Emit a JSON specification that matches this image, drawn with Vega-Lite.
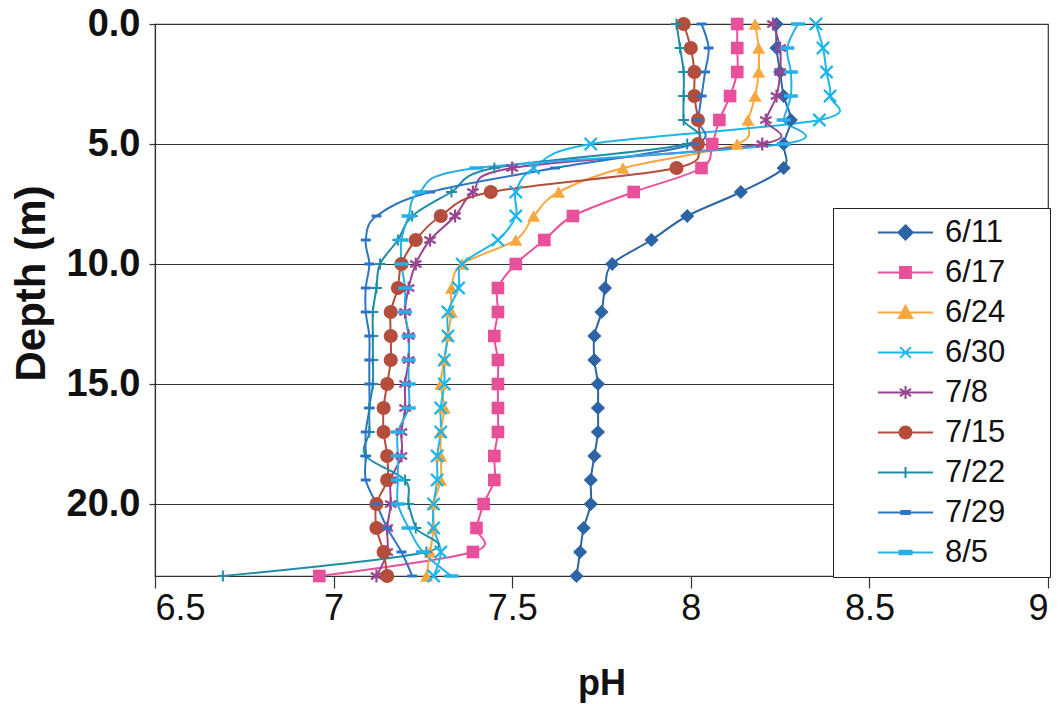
{
  "$schema": "https://vega.github.io/schema/vega-lite/v6.json",
  "width": 893,
  "height": 552,
  "autosize": "none",
  "padding": {"left": 155, "top": 24, "right": 12, "bottom": 128},
  "background": "white",
  "config": {
    "view": {"stroke": "#333", "strokeWidth": 1.2},
    "font": "Liberation Sans"
  },
  "datasets": {
    "ph": [
      {"date":"6/11","d":0,"ph":8.24},{"date":"6/11","d":1,"ph":8.24},{"date":"6/11","d":2,"ph":8.25},{"date":"6/11","d":3,"ph":8.26},{"date":"6/11","d":4,"ph":8.28},{"date":"6/11","d":5,"ph":8.26},{"date":"6/11","d":6,"ph":8.26},{"date":"6/11","d":7,"ph":8.14},{"date":"6/11","d":8,"ph":7.99},{"date":"6/11","d":9,"ph":7.89},{"date":"6/11","d":10,"ph":7.78},{"date":"6/11","d":11,"ph":7.76},{"date":"6/11","d":12,"ph":7.75},{"date":"6/11","d":13,"ph":7.73},{"date":"6/11","d":14,"ph":7.73},{"date":"6/11","d":15,"ph":7.74},{"date":"6/11","d":16,"ph":7.74},{"date":"6/11","d":17,"ph":7.74},{"date":"6/11","d":18,"ph":7.73},{"date":"6/11","d":19,"ph":7.72},{"date":"6/11","d":20,"ph":7.72},{"date":"6/11","d":21,"ph":7.70},{"date":"6/11","d":22,"ph":7.69},{"date":"6/11","d":23,"ph":7.68},
      {"date":"6/17","d":0,"ph":8.13},{"date":"6/17","d":1,"ph":8.13},{"date":"6/17","d":2,"ph":8.13},{"date":"6/17","d":3,"ph":8.11},{"date":"6/17","d":4,"ph":8.08},{"date":"6/17","d":5,"ph":8.06},{"date":"6/17","d":6,"ph":8.03},{"date":"6/17","d":7,"ph":7.84},{"date":"6/17","d":8,"ph":7.67},{"date":"6/17","d":9,"ph":7.59},{"date":"6/17","d":10,"ph":7.51},{"date":"6/17","d":11,"ph":7.46},{"date":"6/17","d":12,"ph":7.46},{"date":"6/17","d":13,"ph":7.45},{"date":"6/17","d":14,"ph":7.46},{"date":"6/17","d":15,"ph":7.46},{"date":"6/17","d":16,"ph":7.46},{"date":"6/17","d":17,"ph":7.46},{"date":"6/17","d":18,"ph":7.45},{"date":"6/17","d":19,"ph":7.45},{"date":"6/17","d":20,"ph":7.42},{"date":"6/17","d":21,"ph":7.40},{"date":"6/17","d":22,"ph":7.39},{"date":"6/17","d":23,"ph":6.96},
      {"date":"6/24","d":0,"ph":8.18},{"date":"6/24","d":1,"ph":8.19},{"date":"6/24","d":2,"ph":8.19},{"date":"6/24","d":3,"ph":8.18},{"date":"6/24","d":4,"ph":8.16},{"date":"6/24","d":5,"ph":8.13},{"date":"6/24","d":6,"ph":7.81},{"date":"6/24","d":7,"ph":7.63},{"date":"6/24","d":8,"ph":7.56},{"date":"6/24","d":9,"ph":7.51},{"date":"6/24","d":10,"ph":7.36},{"date":"6/24","d":11,"ph":7.33},{"date":"6/24","d":12,"ph":7.33},{"date":"6/24","d":13,"ph":7.32},{"date":"6/24","d":14,"ph":7.31},{"date":"6/24","d":15,"ph":7.30},{"date":"6/24","d":16,"ph":7.31},{"date":"6/24","d":17,"ph":7.30},{"date":"6/24","d":18,"ph":7.30},{"date":"6/24","d":19,"ph":7.30},{"date":"6/24","d":20,"ph":7.28},{"date":"6/24","d":21,"ph":7.28},{"date":"6/24","d":22,"ph":7.27},{"date":"6/24","d":23,"ph":7.26},
      {"date":"6/30","d":0,"ph":8.35},{"date":"6/30","d":1,"ph":8.37},{"date":"6/30","d":2,"ph":8.38},{"date":"6/30","d":3,"ph":8.39},{"date":"6/30","d":4,"ph":8.36},{"date":"6/30","d":5,"ph":7.72},{"date":"6/30","d":6,"ph":7.56},{"date":"6/30","d":7,"ph":7.51},{"date":"6/30","d":8,"ph":7.51},{"date":"6/30","d":9,"ph":7.46},{"date":"6/30","d":10,"ph":7.36},{"date":"6/30","d":11,"ph":7.35},{"date":"6/30","d":12,"ph":7.32},{"date":"6/30","d":13,"ph":7.32},{"date":"6/30","d":14,"ph":7.31},{"date":"6/30","d":15,"ph":7.31},{"date":"6/30","d":16,"ph":7.30},{"date":"6/30","d":17,"ph":7.30},{"date":"6/30","d":18,"ph":7.29},{"date":"6/30","d":19,"ph":7.29},{"date":"6/30","d":20,"ph":7.28},{"date":"6/30","d":21,"ph":7.28},{"date":"6/30","d":22,"ph":7.30},{"date":"6/30","d":23,"ph":7.28},
      {"date":"7/8","d":0,"ph":8.23},{"date":"7/8","d":1,"ph":8.25},{"date":"7/8","d":2,"ph":8.25},{"date":"7/8","d":3,"ph":8.24},{"date":"7/8","d":4,"ph":8.21},{"date":"7/8","d":5,"ph":8.20},{"date":"7/8","d":6,"ph":7.50},{"date":"7/8","d":7,"ph":7.39},{"date":"7/8","d":8,"ph":7.34},{"date":"7/8","d":9,"ph":7.27},{"date":"7/8","d":10,"ph":7.23},{"date":"7/8","d":11,"ph":7.21},{"date":"7/8","d":12,"ph":7.20},{"date":"7/8","d":13,"ph":7.21},{"date":"7/8","d":14,"ph":7.21},{"date":"7/8","d":15,"ph":7.20},{"date":"7/8","d":16,"ph":7.20},{"date":"7/8","d":17,"ph":7.19},{"date":"7/8","d":18,"ph":7.19},{"date":"7/8","d":19,"ph":7.16},{"date":"7/8","d":20,"ph":7.16},{"date":"7/8","d":21,"ph":7.15},{"date":"7/8","d":22,"ph":7.15},{"date":"7/8","d":23,"ph":7.12},
      {"date":"7/15","d":0,"ph":7.98},{"date":"7/15","d":1,"ph":8.00},{"date":"7/15","d":2,"ph":8.01},{"date":"7/15","d":3,"ph":8.01},{"date":"7/15","d":4,"ph":8.02},{"date":"7/15","d":5,"ph":8.02},{"date":"7/15","d":6,"ph":7.96},{"date":"7/15","d":7,"ph":7.44},{"date":"7/15","d":8,"ph":7.30},{"date":"7/15","d":9,"ph":7.23},{"date":"7/15","d":10,"ph":7.19},{"date":"7/15","d":11,"ph":7.18},{"date":"7/15","d":12,"ph":7.16},{"date":"7/15","d":13,"ph":7.16},{"date":"7/15","d":14,"ph":7.16},{"date":"7/15","d":15,"ph":7.15},{"date":"7/15","d":16,"ph":7.14},{"date":"7/15","d":17,"ph":7.14},{"date":"7/15","d":18,"ph":7.15},{"date":"7/15","d":19,"ph":7.15},{"date":"7/15","d":20,"ph":7.12},{"date":"7/15","d":21,"ph":7.12},{"date":"7/15","d":22,"ph":7.14},{"date":"7/15","d":23,"ph":7.15},
      {"date":"7/22","d":0,"ph":7.96},{"date":"7/22","d":1,"ph":7.97},{"date":"7/22","d":2,"ph":7.98},{"date":"7/22","d":3,"ph":7.98},{"date":"7/22","d":4,"ph":7.98},{"date":"7/22","d":5,"ph":7.99},{"date":"7/22","d":6,"ph":7.45},{"date":"7/22","d":7,"ph":7.33},{"date":"7/22","d":8,"ph":7.22},{"date":"7/22","d":9,"ph":7.18},{"date":"7/22","d":10,"ph":7.13},{"date":"7/22","d":11,"ph":7.12},{"date":"7/22","d":12,"ph":7.11},{"date":"7/22","d":13,"ph":7.11},{"date":"7/22","d":14,"ph":7.11},{"date":"7/22","d":15,"ph":7.11},{"date":"7/22","d":16,"ph":7.10},{"date":"7/22","d":17,"ph":7.10},{"date":"7/22","d":18,"ph":7.09},{"date":"7/22","d":19,"ph":7.20},{"date":"7/22","d":20,"ph":7.21},{"date":"7/22","d":21,"ph":7.23},{"date":"7/22","d":22,"ph":7.26},{"date":"7/22","d":23,"ph":6.69},
      {"date":"7/29","d":0,"ph":8.03},{"date":"7/29","d":1,"ph":8.05},{"date":"7/29","d":2,"ph":8.04},{"date":"7/29","d":3,"ph":8.03},{"date":"7/29","d":4,"ph":8.02},{"date":"7/29","d":5,"ph":8.01},{"date":"7/29","d":6,"ph":7.62},{"date":"7/29","d":7,"ph":7.27},{"date":"7/29","d":8,"ph":7.12},{"date":"7/29","d":9,"ph":7.09},{"date":"7/29","d":10,"ph":7.10},{"date":"7/29","d":11,"ph":7.09},{"date":"7/29","d":12,"ph":7.09},{"date":"7/29","d":13,"ph":7.10},{"date":"7/29","d":14,"ph":7.10},{"date":"7/29","d":15,"ph":7.10},{"date":"7/29","d":16,"ph":7.10},{"date":"7/29","d":17,"ph":7.09},{"date":"7/29","d":18,"ph":7.09},{"date":"7/29","d":19,"ph":7.09},{"date":"7/29","d":20,"ph":7.12},{"date":"7/29","d":21,"ph":7.15},{"date":"7/29","d":22,"ph":7.19},{"date":"7/29","d":23,"ph":7.22},
      {"date":"8/5","d":0,"ph":8.30},{"date":"8/5","d":1,"ph":8.27},{"date":"8/5","d":2,"ph":8.28},{"date":"8/5","d":3,"ph":8.28},{"date":"8/5","d":4,"ph":8.26},{"date":"8/5","d":5,"ph":8.26},{"date":"8/5","d":6,"ph":7.40},{"date":"8/5","d":7,"ph":7.24},{"date":"8/5","d":8,"ph":7.21},{"date":"8/5","d":9,"ph":7.19},{"date":"8/5","d":10,"ph":7.19},{"date":"8/5","d":11,"ph":7.20},{"date":"8/5","d":12,"ph":7.20},{"date":"8/5","d":13,"ph":7.21},{"date":"8/5","d":14,"ph":7.21},{"date":"8/5","d":15,"ph":7.21},{"date":"8/5","d":16,"ph":7.21},{"date":"8/5","d":17,"ph":7.18},{"date":"8/5","d":18,"ph":7.18},{"date":"8/5","d":19,"ph":7.18},{"date":"8/5","d":20,"ph":7.18},{"date":"8/5","d":21,"ph":7.21},{"date":"8/5","d":22,"ph":7.25},{"date":"8/5","d":23,"ph":7.33}
    ]
  },
  "data": {"name": "ph"},
  "encoding": {
    "x": {"field": "ph", "type": "quantitative",
      "scale": {"domain": [6.5, 9], "nice": false, "zero": false},
      "axis": {"values": [6.5, 7, 7.5, 8, 8.5, 9], "format": ".1~f", "grid": false, "title": "pH",
        "domain": true, "domainColor": "#333", "domainWidth": 1.2, "tickColor": "#333", "tickSize": 12, "tickWidth": 1.2,
        "labelFontSize": 36, "labelColor": "#111", "labelPadding": 3, "labelFont": "Liberation Sans",
        "titleFontSize": 36, "titleFontWeight": "bold", "titleColor": "#111", "titlePadding": 40, "titleFont": "Liberation Sans"}},
    "y": {"field": "d", "type": "quantitative",
      "scale": {"domain": [0, 23], "nice": false, "zero": false, "reverse": true},
      "axis": {"values": [0, 5, 10, 15, 20], "format": ".1f", "grid": true, "gridColor": "#333", "gridWidth": 1.2, "title": "Depth (m)",
        "domain": true, "domainColor": "#333", "domainWidth": 1.2, "tickColor": "#333", "tickSize": 6, "tickWidth": 1.2,
        "labelFontSize": 38, "labelFontWeight": "bold", "labelColor": "#111", "labelPadding": 9, "labelFont": "Liberation Sans",
        "titleFontSize": 42, "titleFontWeight": "bold", "titleColor": "#111", "titleFont": "Liberation Sans",
        "titleX": -124, "titleY": 259, "titleAngle": 270, "titleAlign": "center", "titleBaseline": "middle"}}
  },
  "layer": [
    {"transform": [{"filter": "datum.d < -100"}],
      "mark": {"type": "point", "filled": true, "opacity": 1, "strokeWidth": 2},
      "encoding": {
        "color": {"field": "date", "type": "nominal",
          "scale": {"domain": ["6/11","6/17","6/24","6/30","7/8","7/15","7/22","7/29","8/5"],
                    "range": ["#2C64A6","#E8509B","#F8A73E","#1CB6EB","#9A4592","#B44D3C","#1F8DA5","#2D74C6","#26B0E8"]},
          "legend": {"orient": "none", "legendX": 678, "legendY": 184, "title": null,
            "fillColor": "white", "strokeColor": "#222", "padding": 9,
            "labelFont": "Liberation Sans", "labelFontSize": 31, "labelColor": "#111",
            "symbolSize": 576, "symbolStrokeWidth": 2, "symbolOpacity": 1, "symbolOffset": 48, "labelOffset": 24, "rowPadding": 8}},
        "stroke": {"field": "date", "type": "nominal",
          "scale": {"domain": ["6/11","6/17","6/24","6/30","7/8","7/15","7/22","7/29","8/5"],
                    "range": ["#2C64A6","#E8509B","#F8A73E","#1CB6EB","#9A4592","#B44D3C","#1F8DA5","#2D74C6","#26B0E8"]}},
        "shape": {"field": "date", "type": "nominal",
          "scale": {"domain": ["6/11","6/17","6/24","6/30","7/8","7/15","7/22","7/29","8/5"],
            "range": [
              "M-2.3,0L2.3,0M0,-0.6L0.6,0L0,0.6L-0.6,0ZM10.9,0L10.9,0",
              "M-2.3,0L2.3,0M-0.45,-0.45L0.45,-0.45L0.45,0.45L-0.45,0.45ZM10.9,0L10.9,0",
              "M-2.3,0L2.3,0M0,-0.55L0.55,0.45L-0.55,0.45ZM10.9,0L10.9,0",
              "M-2.3,0L2.3,0M-0.45,-0.45L0.45,0.45M0.45,-0.45L-0.45,0.45M10.9,0L10.9,0",
              "M-2.3,0L2.3,0M0,-0.55L0,0.55M-0.47,-0.3L0.47,0.3M0.47,-0.3L-0.47,0.3M10.9,0L10.9,0",
              "M-2.3,0L2.3,0M0.5,0A0.5,0.5,0,1,1,-0.5,0A0.5,0.5,0,1,1,0.5,0ZM10.9,0L10.9,0",
              "M-2.3,0L2.3,0M0,-0.45L0,0.45M10.9,0L10.9,0",
              "M-2.3,0L2.3,0M-0.35,-0.12L0.35,-0.12L0.35,0.12L-0.35,0.12ZM10.9,0L10.9,0",
              "M-2.3,0L2.3,0M-0.5,-0.15L0.5,-0.15L0.5,0.15L-0.5,0.15ZM10.9,0L10.9,0"
            ]}}
      }
    },
    {
      "mark": {"type": "line", "interpolate": "cardinal", "strokeWidth": 2},
      "encoding": {
        "color": {"field": "date", "type": "nominal"},
        "detail": {"field": "date"},
        "order": {"field": "d", "type": "quantitative"}
      }
    },
    {"transform": [{"filter": {"field": "date", "equal": "6/11"}}],
      "mark": {"type": "point", "shape": "diamond", "filled": true, "size": 200, "opacity": 1},
      "encoding": {"color": {"field": "date", "type": "nominal"}}},
    {"transform": [{"filter": {"field": "date", "equal": "6/17"}}],
      "mark": {"type": "point", "shape": "square", "filled": true, "size": 160, "opacity": 1},
      "encoding": {"color": {"field": "date", "type": "nominal"}}},
    {"transform": [{"filter": {"field": "date", "equal": "6/24"}}],
      "mark": {"type": "point", "shape": "triangle-up", "filled": true, "size": 170, "opacity": 1},
      "encoding": {"color": {"field": "date", "type": "nominal"}}},
    {"transform": [{"filter": {"field": "date", "equal": "6/30"}}],
      "mark": {"type": "point", "shape": "M-1,-1L1,1M1,-1L-1,1", "filled": false, "size": 150, "strokeWidth": 2.2, "opacity": 1},
      "encoding": {"color": {"field": "date", "type": "nominal"}}},
    {"transform": [{"filter": {"field": "date", "equal": "7/8"}}],
      "mark": {"type": "point", "shape": "M0,-1L0,1M-0.87,-0.5L0.87,0.5M0.87,-0.5L-0.87,0.5", "filled": false, "size": 170, "strokeWidth": 2.2, "opacity": 1},
      "encoding": {"color": {"field": "date", "type": "nominal"}}},
    {"transform": [{"filter": {"field": "date", "equal": "7/15"}}],
      "mark": {"type": "point", "shape": "circle", "filled": true, "size": 200, "opacity": 1},
      "encoding": {"color": {"field": "date", "type": "nominal"}}},
    {"transform": [{"filter": {"field": "date", "equal": "7/22"}}],
      "mark": {"type": "point", "shape": "M-1,0L1,0M0,-1L0,1", "filled": false, "size": 120, "strokeWidth": 2, "opacity": 1},
      "encoding": {"color": {"field": "date", "type": "nominal"}}},
    {"transform": [{"filter": {"field": "date", "equal": "7/29"}}],
      "mark": {"type": "point", "shape": "M-1,-0.3L1,-0.3L1,0.3L-1,0.3Z", "filled": true, "size": 100, "opacity": 1},
      "encoding": {"color": {"field": "date", "type": "nominal"}}},
    {"transform": [{"filter": {"field": "date", "equal": "8/5"}}],
      "mark": {"type": "point", "shape": "M-1,-0.25L1,-0.25L1,0.25L-1,0.25Z", "filled": true, "size": 200, "opacity": 1},
      "encoding": {"color": {"field": "date", "type": "nominal"}}}
  ]
}
